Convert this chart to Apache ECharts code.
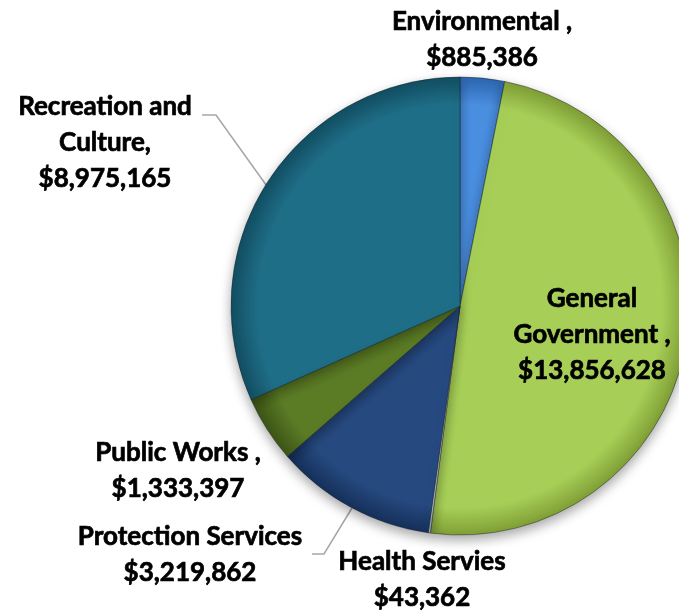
<!DOCTYPE html>
<html>
<head>
<meta charset="utf-8">
<script src="https://cdn.jsdelivr.net/npm/echarts@6/dist/echarts.min.js"></script>
<style>
  html, body { margin: 0; padding: 0; background: #ffffff; }
  #chart { width: 679px; height: 613px; }
</style>
</head>
<body>
<div id="chart"></div>
<script>
// Budget by department
const categories = [
  'Environmental ,',
  'General\nGovernment ,',
  'Health Servies',
  'Protection Services',
  'Public Works ,',
  'Recreation and\nCulture,'
];
const amounts = [885386, 13856628, 43362, 3219862, 1333397, 8975165];
const baseColors = ['#4a8ee0', '#a7cf57', '#d6e2f0', '#26497f', '#5b7b25', '#1f6e88'];
const edgeColors = ['#2c66b0', '#809f36', '#a5b8d0', '#15305a', '#3c5516', '#124e62'];

// label block centres, and the leader lines drawn for the two outside labels
const labelX = [482, 592, 422, 190, 178, 105];
const labelY = [40, 335, 580, 555, 471, 143];
const leaderLines = {
  3: [[352, 508], [324, 554], [312, 554]],
  5: [[269, 189], [216, 115], [202, 115]]
};

const cx = 460, cy = 306, r = 229;

function money(v) {
  return '$' + v.toString().replace(/\B(?=(\d{3})+(?!\d))/g, ',');
}

const data = categories.map((name, i) => ({
  name: name,
  value: amounts[i],
  itemStyle: {
    color: {
      type: 'radial', x: cx, y: cy, r: r, global: true,
      colorStops: [
        { offset: 0, color: baseColors[i] },
        { offset: 0.88, color: baseColors[i] },
        { offset: 1, color: edgeColors[i] }
      ]
    }
  },
  label: { position: i === 1 ? 'inside' : 'outside' },
  labelLine: { show: !!leaderLines[i] }
}));

const chart = echarts.init(document.getElementById('chart'), null, { renderer: 'canvas' });
chart.setOption({
  animation: false,
  backgroundColor: '#ffffff',
  series: [{
    type: 'pie',
    center: [cx, cy],
    radius: [0, r],
    startAngle: 90,
    clockwise: true,
    avoidLabelOverlap: false,
    data: data,
    itemStyle: {
      borderColor: 'rgba(20,30,40,0.45)',
      borderWidth: 1,
      shadowBlur: 12,
      shadowOffsetY: 5,
      shadowColor: 'rgba(0,0,0,0.35)'
    },
    label: {
      show: true,
      formatter: p => p.name + '\n' + money(p.value),
      fontFamily: 'Lato',
      fontWeight: 'bold',
      fontSize: 26,
      lineHeight: 36,
      color: '#000000',
      textBorderColor: '#000000',
      textBorderWidth: 0.7,
      align: 'center'
    },
    labelLine: {
      show: false,
      length: 20,
      length2: 14,
      smooth: false,
      lineStyle: { color: '#a6a6a6', width: 1.5 }
    },
    labelLayout: function (params) {
      const i = params.dataIndex;
      const out = {
        x: labelX[i],
        y: labelY[i],
        align: 'center',
        verticalAlign: 'middle',
        hideOverlap: false
      };
      if (leaderLines[i]) out.labelLinePoints = leaderLines[i];
      return out;
    }
  }]
});
</script>
</body>
</html>
